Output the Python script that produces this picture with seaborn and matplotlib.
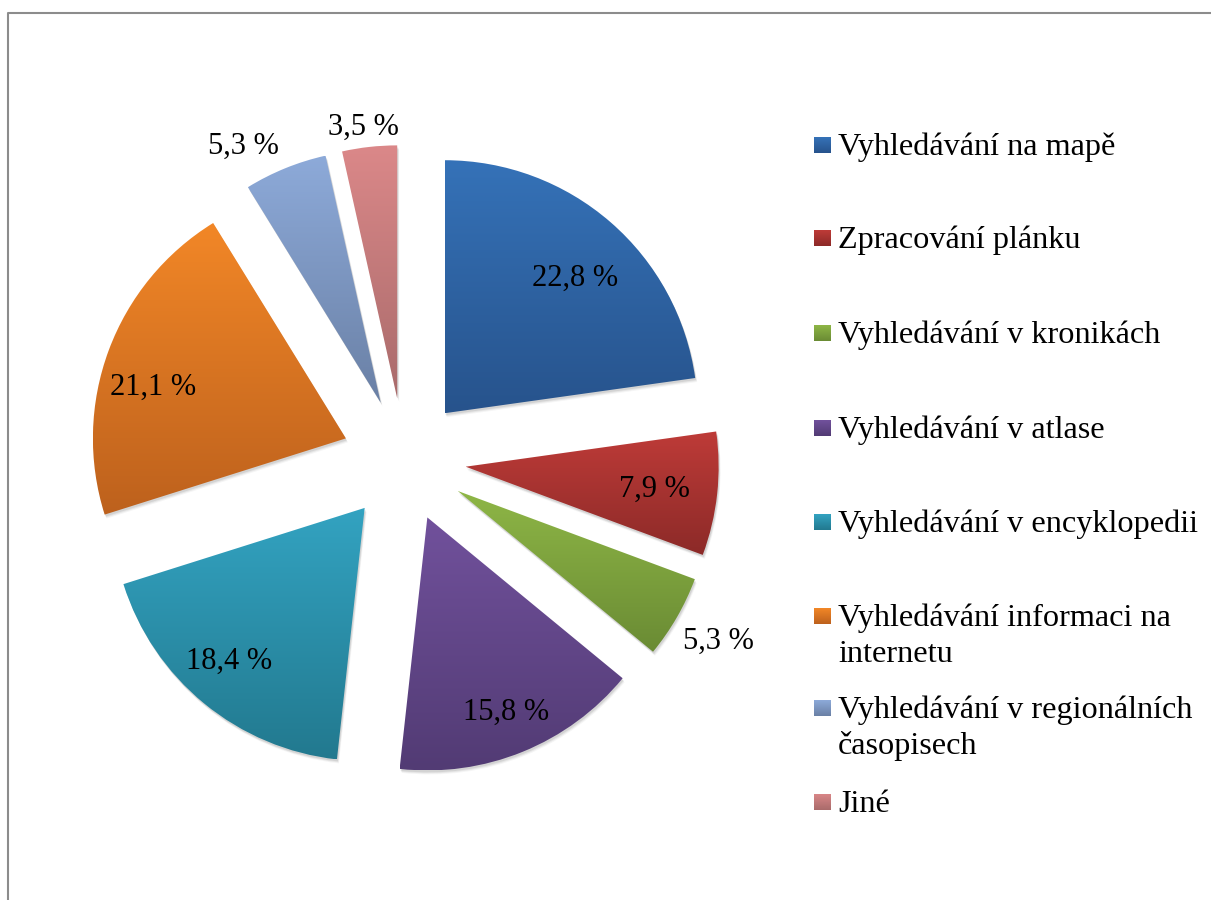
import numpy as np
import matplotlib
matplotlib.use("Agg")
import matplotlib.pyplot as plt
from matplotlib.patches import Wedge
from matplotlib.lines import Line2D
import seaborn as sns

# --- data -------------------------------------------------------------
categories = [
    "Vyhledávání na mapě",
    "Zpracování plánku",
    "Vyhledávání v kronikách",
    "Vyhledávání v atlase",
    "Vyhledávání v encyklopedii",
    "Vyhledávání informaci na\ninternetu",
    "Vyhledávání v regionálních\nčasopisech",
    "Jiné",
]
shares = [22.8, 7.9, 5.3, 15.8, 18.4, 21.1, 5.3, 3.5]
value_labels = ["22,8 %", "7,9 %", "5,3 %", "15,8 %", "18,4 %", "21,1 %", "5,3 %", "3,5 %"]

# gradient colours (top, bottom) for each slice
top_colors = ["#3572B8", "#BE3B38", "#8EB646", "#71519C",
              "#33A3C1", "#F28727", "#8DAAD9", "#DB8889"]
bottom_colors = ["#27538C", "#8C2A28", "#6A8B34", "#523B74",
                 "#22798F", "#BD611D", "#6A80A5", "#A96B6B"]

# --- style ------------------------------------------------------------
sns.set_theme(style="white")
plt.rcParams["font.family"] = ["Liberation Serif", "DejaVu Serif"]

W, H = 1211, 900
fig = plt.figure(figsize=(W / 100, H / 100), dpi=100)
fig.patch.set_facecolor("white")

# pie placement (pixels): centre and radius
cx, cy, R = 404, 460, 253
L = 1.55
side = 2 * L * R
ax = fig.add_axes([(cx - side / 2) / W, (H - cy - side / 2) / H, side / W, side / H])

explode = [0.245] * len(shares)
wedges, _ = ax.pie(shares, explode=explode, startangle=90, counterclock=False,
                   radius=1.0, wedgeprops=dict(linewidth=0))
ax.set_aspect("equal")
ax.axis("off")

# label distance from the exploded slice apex (in radii) and angular nudge
label_dist = [0.74, 0.75, 1.19, 0.83, 0.81, 0.79, 1.15, 1.08]
label_nudge = [-3.0, -0.7, 0.0, 0.0, -2.0, 5.5, 6.0, 0.7]

for i, w in enumerate(wedges):
    w.set_facecolor("none")
    w.set_edgecolor("none")
    # soft drop shadow
    for k, a in zip((4, 3, 2), (0.04, 0.06, 0.08)):
        off = k / R
        sh = Wedge((w.center[0] + off * 0.5, w.center[1] - off), w.r, w.theta1, w.theta2,
                   facecolor="black", edgecolor="none", alpha=a, zorder=0.5)
        ax.add_patch(sh)
    # vertical gradient fill clipped to the slice
    ext = w.get_path().get_extents()
    cmap = sns.blend_palette([bottom_colors[i], top_colors[i]], n_colors=256, as_cmap=True)
    grad = np.linspace(0, 1, 256).reshape(-1, 1)
    im = ax.imshow(grad, cmap=cmap, origin="lower", aspect="auto",
                   extent=(ext.x0, ext.x1, ext.y0, ext.y1), zorder=1,
                   interpolation="bilinear")
    im.set_clip_path(w)
    # value label
    ang = np.deg2rad((w.theta1 + w.theta2) / 2 + label_nudge[i])
    lx = w.center[0] + label_dist[i] * np.cos(ang)
    ly = w.center[1] + label_dist[i] * np.sin(ang)
    ax.text(lx, ly, value_labels[i], ha="center", va="center",
            fontsize=22, color="black", zorder=3)

ax.set_xlim(-L, L)
ax.set_ylim(-L, L)

# --- legend (drawn in figure pixel space) -----------------------------
leg_baselines = [155, 248, 343, 438, 532, 626, 718, 812]
line_step = 36
sq_x, sq_w, sq_h = 814, 17, 16
text_x = 838
for i, lab in enumerate(categories):
    base = leg_baselines[i]
    # gradient square
    sq_ax = fig.add_axes([sq_x / W, (H - base + 2) / H, sq_w / W, sq_h / H])
    cmap = sns.blend_palette([bottom_colors[i], top_colors[i]], n_colors=64, as_cmap=True)
    sq_ax.imshow(np.linspace(0, 1, 64).reshape(-1, 1), cmap=cmap, origin="lower",
                 aspect="auto", extent=(0, 1, 0, 1))
    sq_ax.axis("off")
    for j, line in enumerate(lab.split("\n")):
        fig.text(text_x / W, (H - base - j * line_step) / H, line,
                 ha="left", va="baseline", fontsize=23.2, color="black")

# chart-area frame (top and left edges)
fx = 7.5 / W
fy = 1 - 12.5 / H
fig.add_artist(Line2D([fx, fx, 1.0], [0.0, fy, fy], transform=fig.transFigure,
                      color="#8C8C8C", linewidth=1.5))

fig.savefig("out.png", dpi=100, facecolor="white")
